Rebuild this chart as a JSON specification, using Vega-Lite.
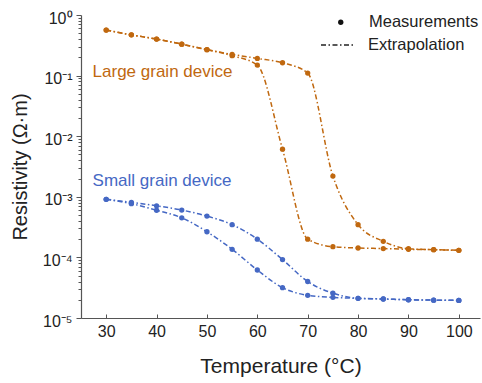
{
  "$schema": "https://vega.github.io/schema/vega-lite/v6.json",
  "width": 399,
  "height": 303,
  "autosize": "none",
  "padding": {"left": 81, "top": 15, "right": 2, "bottom": 65},
  "background": "white",
  "config": {
    "view": {"stroke": null},
    "font": "Liberation Sans",
    "axis": {"grid": false, "domainColor": "#555", "tickColor": "#555", "labelColor": "#222", "titleColor": "#222", "labelFont": "Liberation Sans", "titleFont": "Liberation Sans", "titleFontWeight": "normal"},
    "legend": {"labelFont": "Liberation Sans", "labelColor": "#222", "labelFontSize": 16.5}
  },
  "datasets": {
    "curves": [
      {"run": "L1", "grp": "Large", "T": 30, "R": 0.565},
      {"run": "L1", "grp": "Large", "T": 35, "R": 0.47},
      {"run": "L1", "grp": "Large", "T": 40, "R": 0.40},
      {"run": "L1", "grp": "Large", "T": 45, "R": 0.33},
      {"run": "L1", "grp": "Large", "T": 50, "R": 0.268},
      {"run": "L1", "grp": "Large", "T": 55, "R": 0.224},
      {"run": "L1", "grp": "Large", "T": 60, "R": 0.192},
      {"run": "L1", "grp": "Large", "T": 65, "R": 0.163},
      {"run": "L1", "grp": "Large", "T": 70, "R": 0.11},
      {"run": "L1", "grp": "Large", "T": 75, "R": 0.0022},
      {"run": "L1", "grp": "Large", "T": 80, "R": 0.000347},
      {"run": "L1", "grp": "Large", "T": 85, "R": 0.000184},
      {"run": "L1", "grp": "Large", "T": 90, "R": 0.000139},
      {"run": "L1", "grp": "Large", "T": 95, "R": 0.000134},
      {"run": "L1", "grp": "Large", "T": 100, "R": 0.000131},
      {"run": "L2", "grp": "Large", "T": 30, "R": 0.565},
      {"run": "L2", "grp": "Large", "T": 35, "R": 0.47},
      {"run": "L2", "grp": "Large", "T": 40, "R": 0.40},
      {"run": "L2", "grp": "Large", "T": 45, "R": 0.33},
      {"run": "L2", "grp": "Large", "T": 50, "R": 0.268},
      {"run": "L2", "grp": "Large", "T": 55, "R": 0.213},
      {"run": "L2", "grp": "Large", "T": 60, "R": 0.149},
      {"run": "L2", "grp": "Large", "T": 65, "R": 0.0061},
      {"run": "L2", "grp": "Large", "T": 70, "R": 0.0002},
      {"run": "L2", "grp": "Large", "T": 75, "R": 0.00015},
      {"run": "L2", "grp": "Large", "T": 80, "R": 0.000143},
      {"run": "L2", "grp": "Large", "T": 85, "R": 0.00014},
      {"run": "L2", "grp": "Large", "T": 90, "R": 0.000136},
      {"run": "L2", "grp": "Large", "T": 95, "R": 0.000134},
      {"run": "L2", "grp": "Large", "T": 100, "R": 0.000131},
      {"run": "S1", "grp": "Small", "T": 30, "R": 0.00091},
      {"run": "S1", "grp": "Small", "T": 35, "R": 0.00081},
      {"run": "S1", "grp": "Small", "T": 40, "R": 0.00071},
      {"run": "S1", "grp": "Small", "T": 45, "R": 0.000605},
      {"run": "S1", "grp": "Small", "T": 50, "R": 0.00048},
      {"run": "S1", "grp": "Small", "T": 55, "R": 0.000347},
      {"run": "S1", "grp": "Small", "T": 60, "R": 0.0002},
      {"run": "S1", "grp": "Small", "T": 65, "R": 0.000092},
      {"run": "S1", "grp": "Small", "T": 70, "R": 0.00004},
      {"run": "S1", "grp": "Small", "T": 75, "R": 0.0000257},
      {"run": "S1", "grp": "Small", "T": 80, "R": 0.0000211},
      {"run": "S1", "grp": "Small", "T": 85, "R": 0.0000206},
      {"run": "S1", "grp": "Small", "T": 90, "R": 0.00002},
      {"run": "S1", "grp": "Small", "T": 95, "R": 0.0000197},
      {"run": "S1", "grp": "Small", "T": 100, "R": 0.0000195},
      {"run": "S2", "grp": "Small", "T": 30, "R": 0.00091},
      {"run": "S2", "grp": "Small", "T": 35, "R": 0.00077},
      {"run": "S2", "grp": "Small", "T": 40, "R": 0.0006},
      {"run": "S2", "grp": "Small", "T": 45, "R": 0.00045},
      {"run": "S2", "grp": "Small", "T": 50, "R": 0.000265},
      {"run": "S2", "grp": "Small", "T": 55, "R": 0.000136},
      {"run": "S2", "grp": "Small", "T": 60, "R": 0.000062},
      {"run": "S2", "grp": "Small", "T": 65, "R": 0.0000316},
      {"run": "S2", "grp": "Small", "T": 70, "R": 0.0000237},
      {"run": "S2", "grp": "Small", "T": 75, "R": 0.0000219},
      {"run": "S2", "grp": "Small", "T": 80, "R": 0.0000211},
      {"run": "S2", "grp": "Small", "T": 85, "R": 0.0000206},
      {"run": "S2", "grp": "Small", "T": 90, "R": 0.00002},
      {"run": "S2", "grp": "Small", "T": 95, "R": 0.0000197},
      {"run": "S2", "grp": "Small", "T": 100, "R": 0.0000195}
    ],
    "labels": [
      {"grp": "Large", "T": 27.3, "R": 0.114, "text": "Large grain device"},
      {"grp": "Small", "T": 27.3, "R": 0.00182, "text": "Small grain device"}
    ]
  },
  "layer": [
    {
      "data": {"name": "curves"},
      "mark": {"type": "line", "interpolate": "monotone", "strokeWidth": 1.5},
      "encoding": {
        "x": {"field": "T", "type": "quantitative", "scale": {"domain": [25, 104.2], "nice": false, "zero": false},
              "axis": {"title": "Temperature (°C)", "values": [30, 40, 50, 60, 70, 80, 90, 100], "tickSize": -4, "labelPadding": 9, "labelFontSize": 16, "titleFontSize": 21, "titlePadding": 16, "domainWidth": 1.2}},
        "y": {"field": "R", "type": "quantitative", "scale": {"type": "log", "domain": [0.00001, 1], "nice": false},
              "axis": {"title": "Resistivity (Ω·m)", "titleFontSize": 20, "titlePadding": 12, "labelFontSize": 16, "labelOverlap": false, "labelOffset": 3,
                "values": [1, 0.9, 0.8, 0.7, 0.6, 0.5, 0.4, 0.3, 0.2, 0.1, 0.09, 0.08, 0.07, 0.06, 0.05, 0.04, 0.03, 0.02, 0.01, 0.009, 0.008, 0.007, 0.006, 0.005, 0.004, 0.003, 0.002, 0.001, 0.0009, 0.0008, 0.0007, 0.0006, 0.0005, 0.0004, 0.0003, 0.0002, 0.0001, 0.00009, 0.00008, 0.00007, 0.00006, 0.00005, 0.00004, 0.00003, 0.00002, 0.00001],
                "tickSize": {"condition": {"test": "abs(log(datum.value)/LN10 - round(log(datum.value)/LN10)) < 0.01", "value": 5}, "value": 3},
                "labelExpr": "abs(log(datum.value)/LN10 - round(log(datum.value)/LN10)) > 0.01 ? '' : ['10⁰','10⁻¹','10⁻²','10⁻³','10⁻⁴','10⁻⁵'][-round(log(datum.value)/LN10)]",
                "labelPadding": 4, "domainWidth": 1.2}},
        "color": {"field": "grp", "type": "nominal", "scale": {"domain": ["Large", "Small"], "range": ["#C0680F", "#4568C4"]}, "legend": null},
        "detail": {"field": "run"},
        "strokeDash": {"datum": "Extrapolation", "scale": {"range": [[5, 2.5, 1.5, 2.5]]},
          "legend": {"title": null, "orient": "none", "legendX": 239, "legendY": 13, "symbolType": "stroke", "symbolSize": 1024, "symbolStrokeColor": "#222", "symbolStrokeWidth": 1.3, "labelOffset": 14, "padding": 0}}
      }
    },
    {
      "data": {"name": "curves"},
      "mark": {"type": "point", "filled": true, "opacity": 1, "size": 28},
      "encoding": {
        "x": {"field": "T", "type": "quantitative"},
        "y": {"field": "R", "type": "quantitative"},
        "color": {"field": "grp", "type": "nominal"},
        "shape": {"datum": "Measurements", "scale": {"range": ["circle"]},
          "legend": {"title": null, "orient": "none", "legendX": 251.5, "legendY": -1, "symbolFillColor": "#111", "symbolStrokeWidth": 0, "symbolSize": 28, "labelOffset": 20, "padding": 0}}
      }
    },
    {
      "data": {"name": "labels"},
      "mark": {"type": "text", "align": "left", "baseline": "middle", "fontSize": 17, "font": "Liberation Sans"},
      "encoding": {
        "x": {"field": "T", "type": "quantitative"},
        "y": {"field": "R", "type": "quantitative"},
        "text": {"field": "text"},
        "color": {"field": "grp", "type": "nominal"}
      }
    }
  ]
}
